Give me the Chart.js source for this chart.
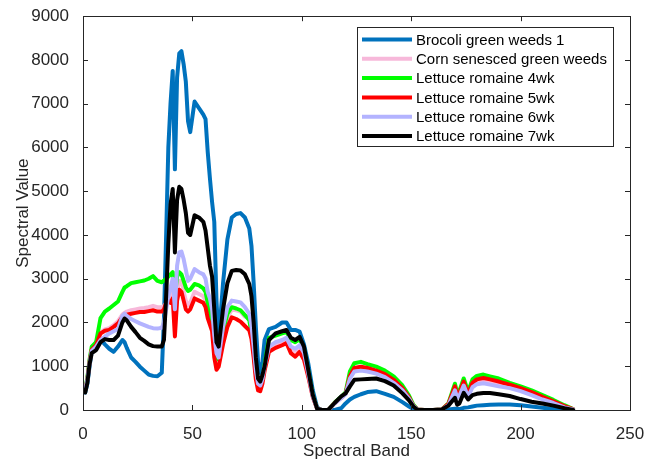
<!DOCTYPE html>
<html lang="en">
<head>
    <meta charset="UTF-8">
    <title>Spectral Value vs Spectral Band</title>
    <script src="https://cdn.jsdelivr.net/npm/chart.js"></script>
    <style>
        body {
            margin: 0;
            background-color: white;
        }
        #wrap {
            width: 658px;
            height: 462px;
        }
    </style>
</head>
<body>
    <div id="wrap"><canvas id="spectraChart"></canvas></div>

    <script>
        // sampled band positions (shared by all series)
        const bands = [1, 2, 3, 4, 6, 8, 10, 12, 14, 16,
            18, 19, 20, 22, 24, 26, 28, 30, 32, 34,
            36, 37, 38, 39, 40, 41, 42, 43, 44, 45,
            46, 47, 48, 49, 51, 53, 55, 56, 57, 58,
            59, 60, 61, 62, 64, 66, 68, 70, 72, 74,
            76, 77, 78, 79, 80, 81, 82, 83, 85, 88,
            91, 93, 95, 97, 99, 101, 103, 105, 107, 109,
            112, 115, 118, 120, 122, 124, 127, 130, 134, 138,
            142, 146, 149, 151, 153, 156, 160, 164, 167, 170,
            171, 172, 174, 176, 178, 180, 183, 186, 190, 195,
            200, 205, 210, 215, 220, 224];

        const brocoli = [400, 600, 1000, 1350, 1550, 1620, 1500, 1400, 1330, 1450,
            1600, 1550, 1420, 1200, 1100, 990, 900, 810, 780, 770,
            850, 2100, 4000, 6000, 7000, 7750, 5500, 7600, 8150, 8200,
            7900, 7500, 6600, 6350, 7050, 6900, 6750, 6650, 5900, 5300,
            4750, 4300, 2500, 1550, 2900, 3900, 4400, 4480, 4500, 4400,
            4150, 3750, 2900, 1900, 1100, 850, 1100, 1600, 1850, 1900,
            2000, 2000, 1830, 1830, 1790, 1500, 1050, 450, 60, 0,
            0, 0, 40, 150, 240, 300, 360, 410, 430, 370,
            300, 180, 80, 20, 0, 0, 0, 0, 10, 30,
            30, 20, 50, 60, 80, 100, 110, 120, 125, 125,
            110, 80, 50, 25, 5, 0];

        const cornSenesced = [450, 700, 1100, 1380, 1490, 1770, 1840, 1870, 1940, 2030,
            2180, 2220, 2250, 2280, 2300, 2320, 2330, 2350, 2380, 2350,
            2350, 2380, 2450, 2550, 2600, 2700, 2000, 2700, 2950, 2950,
            2700, 2500, 2400, 2450, 2700, 2650, 2600, 2500, 2250, 2100,
            2050, 1450, 1100, 1050, 1700, 2100, 2300, 2280, 2250, 2130,
            2150, 1850, 1400, 850, 580, 550, 680, 980, 1400, 1500,
            1550, 1600, 1400, 1350, 1420, 1250, 800, 310, 30, 0,
            0, 155, 275, 370, 750, 920, 950, 920, 860, 790,
            650, 470, 270, 95, 10, 0, 0, 10, 120, 480,
            300, 350, 600, 330, 560, 640, 670, 640, 590, 540,
            460, 370, 270, 180, 75, 15];

        const romaine4wk = [450, 750, 1150, 1450, 1550, 2100, 2250, 2320, 2400, 2480,
            2700, 2800, 2830, 2900, 2920, 2940, 2960, 3000, 3060, 2950,
            2920, 2960, 3000, 3050, 3100, 3150, 2600, 3050, 3150, 3100,
            2950, 2800, 2720, 2750, 2880, 2850, 2780, 2700, 2450, 2250,
            2000, 1500, 1200, 1150, 1800, 2200, 2350, 2320, 2280, 2170,
            2050, 1760, 1350, 850, 560, 540, 700, 1050, 1650, 1700,
            1750, 1780, 1600, 1550, 1620, 1400, 880, 340, 30, 0,
            0, 170, 300, 400, 880, 1070, 1100, 1050, 990, 900,
            770, 560, 330, 120, 10, 0, 0, 10, 150, 600,
            380, 430, 720, 420, 700, 780, 810, 770, 720, 620,
            540, 450, 340, 230, 110, 20];

        const romaine5wk = [450, 700, 1100, 1380, 1480, 1750, 1810, 1830, 1900, 1980,
            2120, 2150, 2180, 2200, 2220, 2240, 2240, 2260, 2280, 2250,
            2250, 2300, 2450, 2500, 2450, 2550, 1680, 2500, 2750, 2700,
            2500, 2300, 2250, 2300, 2550, 2500, 2450, 2350, 2100, 1950,
            1800, 1200, 920, 990, 1500, 1900, 2120, 2080, 2020, 1920,
            1820, 1620, 1200, 700, 450, 430, 600, 900, 1330, 1420,
            1480, 1530, 1300, 1220, 1330, 1150, 750, 300, 30, 0,
            0, 160, 280, 380, 780, 960, 990, 960, 900, 820,
            690, 500, 290, 100, 10, 0, 0, 10, 140, 540,
            330, 380, 650, 360, 620, 700, 730, 700, 650, 580,
            500, 410, 300, 200, 90, 20];

        const romaine6wk = [450, 700, 1080, 1350, 1450, 1600, 1680, 1750, 1800, 1850,
            2150, 2200, 2150, 2080, 2030, 1980, 1940, 1900, 1870, 1860,
            1880, 2000, 2300, 2600, 2800, 3000, 2300, 3300, 3600, 3620,
            3450, 3200, 2950, 3000, 3220, 3150, 3100, 3000, 2700, 2550,
            2300, 1700, 1300, 1200, 1900, 2350, 2500, 2480, 2460, 2350,
            2200, 1920, 1450, 900, 600, 560, 700, 1000, 1450, 1550,
            1600, 1650, 1450, 1400, 1480, 1300, 820, 320, 30, 0,
            0, 150, 270, 360, 720, 880, 900, 880, 830, 750,
            620, 450, 260, 90, 10, 0, 0, 10, 110, 450,
            280, 320, 560, 300, 520, 590, 610, 580, 540, 500,
            430, 340, 240, 160, 60, 10];

        const romaine7wk = [400, 620, 1050, 1300, 1370, 1550, 1620, 1600, 1600, 1700,
            2000, 2090, 2050, 1900, 1780, 1650, 1580, 1500, 1460, 1450,
            1450, 1600, 2600, 3800, 4700, 5050, 3600, 4800, 5100, 5050,
            4800, 4500, 4050, 4000, 4450, 4400, 4300, 4100, 3700, 3300,
            3050, 2300, 1550, 1450, 2300, 2900, 3180, 3200, 3190, 3100,
            2880, 2600, 2000, 1200, 720, 650, 800, 1000, 1600, 1750,
            1800, 1830, 1650, 1600, 1670, 1450, 900, 350, 30, 0,
            0, 160, 310, 380, 540, 690, 700, 710, 720, 660,
            560, 380, 220, 80, 0, 0, 0, 10, 100, 280,
            120, 150, 390, 240, 340, 370, 390, 390, 360, 320,
            250, 190, 150, 100, 40, 0];

        const seriesNames = ['Brocoli green weeds 1', 'Corn senesced green weeds', 'Lettuce romaine 4wk',
            'Lettuce romaine 5wk', 'Lettuce romaine 6wk', 'Lettuce romaine 7wk'];
        const seriesValues = [brocoli, cornSenesced, romaine4wk, romaine5wk, romaine6wk, romaine7wk];
        const seriesColors = ['#0072BD', '#F7B8DA', '#00FF00', '#FF0000', '#B3B3FF', '#000000'];

        const axisColor = '#262626';

        const datasets = seriesValues.map((vals, i) => ({
            label: seriesNames[i],
            data: bands.map((b, k) => ({ x: b, y: vals[k] })),
            borderColor: seriesColors[i],
            borderWidth: 4,
            pointRadius: 0,
            tension: 0,
            fill: false,
            borderJoinStyle: 'round',
            borderCapStyle: 'round',
            order: seriesValues.length - i // later series drawn on top, like matlab
        }));

        // box, inward ticks and the legend inside the axes
        const matlabAxes = {
            id: 'matlabAxes',
            afterDraw(chart) {
                const { ctx, chartArea: a, scales } = chart;
                ctx.save();
                ctx.strokeStyle = axisColor;
                ctx.lineWidth = 1;
                ctx.strokeRect(Math.round(a.left) + 0.5, Math.round(a.top) + 0.5,
                    Math.round(a.right - a.left), Math.round(a.bottom - a.top));

                const tl = 5;
                ctx.beginPath();
                scales.x.ticks.forEach(t => {
                    const px = Math.round(scales.x.getPixelForValue(t.value)) + 0.5;
                    ctx.moveTo(px, a.bottom); ctx.lineTo(px, a.bottom - tl);
                    ctx.moveTo(px, a.top); ctx.lineTo(px, a.top + tl);
                });
                scales.y.ticks.forEach(t => {
                    const py = Math.round(scales.y.getPixelForValue(t.value)) + 0.5;
                    ctx.moveTo(a.left, py); ctx.lineTo(a.left + tl, py);
                    ctx.moveTo(a.right, py); ctx.lineTo(a.right - tl, py);
                });
                ctx.stroke();

                // legend
                const lx = 357, ly = 27, lw = 256, lh = 119;
                ctx.fillStyle = 'white';
                ctx.fillRect(lx, ly, lw, lh);
                ctx.strokeRect(lx + 0.5, ly + 0.5, lw, lh);
                ctx.font = '15px "Liberation Sans", Arial, sans-serif';
                ctx.textBaseline = 'middle';
                ctx.textAlign = 'left';
                chart.data.datasets.forEach((ds, i) => {
                    const yy = ly + 12.5 + i * 19.3;
                    ctx.strokeStyle = ds.borderColor;
                    ctx.lineWidth = 4;
                    ctx.beginPath();
                    ctx.moveTo(lx + 5, yy);
                    ctx.lineTo(lx + 55, yy);
                    ctx.stroke();
                    ctx.fillStyle = '#000';
                    ctx.fillText(ds.label, lx + 59, yy + 1);
                });
                ctx.restore();
            }
        };

        const tickFont = { family: '"Liberation Sans", Arial, sans-serif', size: 17 };

        new Chart(document.getElementById('spectraChart'), {
            type: 'line',
            data: { datasets: datasets },
            plugins: [matlabAxes],
            options: {
                responsive: true,
                maintainAspectRatio: false,
                animation: false,
                layout: { padding: { top: 13, right: 28, left: 0, bottom: 0 } },
                plugins: {
                    legend: { display: false },
                    tooltip: { enabled: false }
                },
                scales: {
                    x: {
                        type: 'linear',
                        min: 0,
                        max: 250,
                        ticks: { stepSize: 50, color: axisColor, font: tickFont, padding: 6, maxRotation: 0, callback: v => String(v) },
                        grid: { display: false },
                        border: { display: true, color: axisColor },
                        title: { display: true, text: 'Spectral Band', color: axisColor, font: tickFont, padding: { top: 0, bottom: 0 } },
                        afterFit(scale) { scale.height = 52; }
                    },
                    y: {
                        min: 0,
                        max: 9000,
                        ticks: { stepSize: 1000, color: axisColor, font: tickFont, padding: 6, callback: v => String(v) },
                        grid: { display: false },
                        border: { display: true, color: axisColor },
                        title: { display: true, text: 'Spectral Value', color: axisColor, font: tickFont, padding: { top: 13, bottom: 0 } },
                        afterFit(scale) { scale.width = 83; }
                    }
                }
            }
        });
    </script>
</body>
</html>
